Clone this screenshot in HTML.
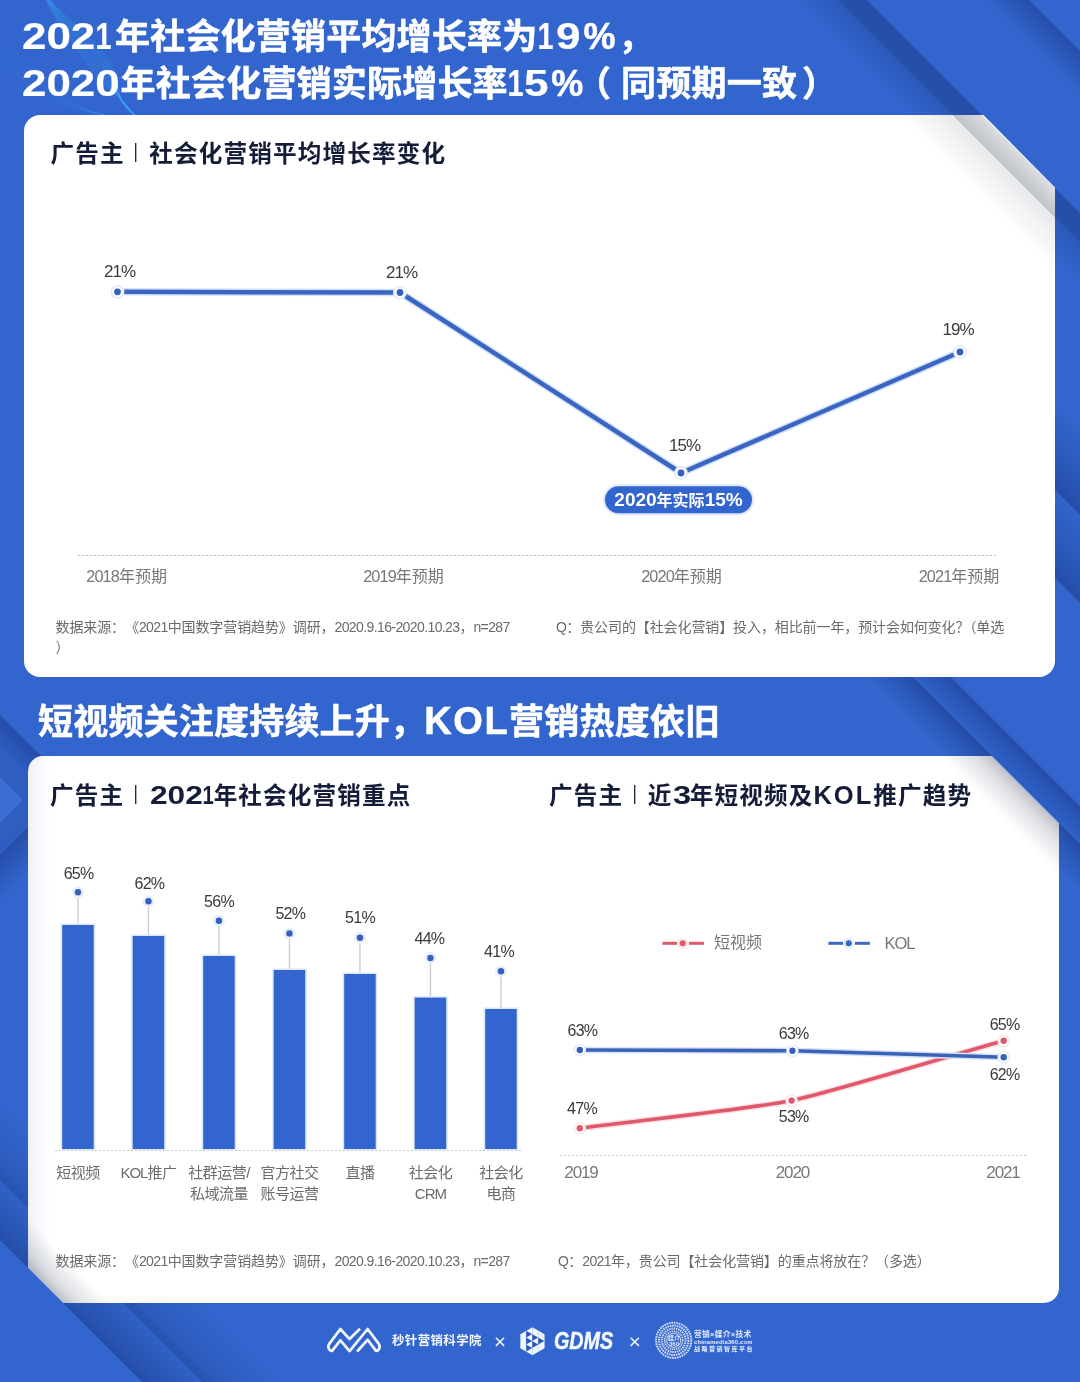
<!DOCTYPE html>
<html lang="zh-CN">
<head>
<meta charset="utf-8">
<title>社会化营销趋势</title>
<style>
*{margin:0;padding:0;box-sizing:border-box}
html,body{width:1080px;height:1382px;overflow:hidden;background:#3265cd}
body{position:relative;font-family:"Liberation Sans","Noto Sans CJK SC",sans-serif;color:#222;text-spacing-trim:space-all}
svg{position:absolute;left:0;top:0;overflow:visible}
.h1{position:absolute;left:24px;color:#fff;font-weight:700;font-size:35px;letter-spacing:.2px;line-height:47px;white-space:nowrap;-webkit-text-stroke:.55px #fff}
.h1 .n{font-size:36px;letter-spacing:2.7px}
.h1 .w{display:inline-block;font-size:36px;letter-spacing:0;transform:scaleX(1.22);transform-origin:0 50%;-webkit-text-stroke:.2px #fff}
.n{font-weight:inherit}
.card{position:absolute;background:#fff;border-radius:16px}
.ctitle{position:absolute;font-weight:700;font-size:23.6px;letter-spacing:1.15px;color:#141c38;white-space:nowrap;line-height:30px}
.ctitle i{font-style:normal;font-weight:400;font-size:21px;display:inline-block;margin:0 10.5px 0 8.6px;letter-spacing:0;transform:scaleX(.8);position:relative;top:-4.2px;color:#232b45}
.ctitle .n{font-size:25.5px;letter-spacing:3.2px}
.ctitle .w{display:inline-block;font-size:25.5px;letter-spacing:0;transform:scaleX(1.24);transform-origin:0 50%}
.ctitle .k{letter-spacing:2px}
.ctitle .o{letter-spacing:-1.5px}
.lbl{position:absolute;white-space:nowrap;color:#3a3a3a;font-size:17px;line-height:20px;transform:translateX(-50%);letter-spacing:-1px}
.ax{position:absolute;white-space:nowrap;color:#787878;font-size:16px;line-height:20px;transform:translateX(-50%);text-align:center}
.ax .d{font-size:16.3px;letter-spacing:-.9px}
.note{position:absolute;white-space:nowrap;color:#6a6a6a;font-size:14px;line-height:20px;letter-spacing:-.1px}
.note .d{letter-spacing:-.6px}
.pill{position:absolute;color:#fff;font-weight:700;font-size:16px;line-height:27px;text-align:center;white-space:nowrap}
.pill .n{font-size:19px}
.cat{position:absolute;transform:translateX(-50%);text-align:center;white-space:nowrap;color:#6c6c6c;font-size:15px;line-height:21px;letter-spacing:-.5px}
.cat .d{letter-spacing:-1px}
.yr{position:absolute;white-space:nowrap;color:#777;font-size:17px;line-height:20px;transform:translateX(-50%);letter-spacing:-1.1px}
.leg{position:absolute;white-space:nowrap;color:#777;font-size:16px;line-height:20px}
.leg .d{font-size:16.5px;letter-spacing:-1.1px}
.ft1{position:absolute;left:392px;top:1331px;color:#f3f7ff;font-weight:700;font-size:12.4px;letter-spacing:.45px;line-height:20px;white-space:nowrap}
.gdms{-webkit-text-stroke:.5px #f6f9ff;position:absolute;left:553.5px;top:1326px;color:#f6f9ff;font-weight:700;font-style:italic;font-size:24px;line-height:30px;white-space:nowrap;transform:scaleX(.82);transform-origin:0 50%}
.g360{position:absolute;left:653.7px;top:1330.3px;width:40px;height:20px;color:#e8efff;font-weight:700;font-size:12px;line-height:12px;text-align:center;white-space:nowrap;transform:scale(.5);transform-origin:50% 50%}
.m1{position:absolute;left:694px;top:1323.8px;color:#e8efff;font-weight:700;font-size:15.4px;line-height:20px;letter-spacing:.6px;white-space:nowrap;transform:scale(.5);transform-origin:0 50%}
.m2{position:absolute;left:694px;top:1331.6px;color:#e8efff;font-weight:700;font-size:11.6px;line-height:20px;letter-spacing:.4px;white-space:nowrap;transform:scale(.5);transform-origin:0 50%}
.m3{position:absolute;left:694px;top:1338.8px;color:#e8efff;font-weight:700;font-size:12px;line-height:20px;letter-spacing:3px;white-space:nowrap;transform:scale(.5);transform-origin:0 50%}
.l2{font-size:16px;letter-spacing:-.75px}
.h1 .u,.ctitle .u{transform:scaleX(.8);transform-origin:85% 50%}

</style>
</head>
<body>
<svg id="bg" width="1080" height="1382" viewBox="0 0 1080 1382"><defs>
<linearGradient id="sp" x1="0" y1="0" x2="0" y2="1"><stop offset="0" stop-color="#0a1f5c" stop-opacity="0.34"/><stop offset="0.35" stop-color="#0a1f5c" stop-opacity="0.2"/><stop offset="1" stop-color="#0a1f5c" stop-opacity="0"/></linearGradient>
<linearGradient id="sn" x1="0" y1="1" x2="0" y2="0"><stop offset="0" stop-color="#0a1f5c" stop-opacity="0.34"/><stop offset="0.35" stop-color="#0a1f5c" stop-opacity="0.2"/><stop offset="1" stop-color="#0a1f5c" stop-opacity="0"/></linearGradient>
<linearGradient id="tp" x1="0" y1="0" x2="0" y2="1"><stop offset="0" stop-color="#0a1f5c" stop-opacity="0.22"/><stop offset="0.35" stop-color="#0a1f5c" stop-opacity="0.12"/><stop offset="1" stop-color="#0a1f5c" stop-opacity="0"/></linearGradient>
<linearGradient id="tn" x1="0" y1="1" x2="0" y2="0"><stop offset="0" stop-color="#0a1f5c" stop-opacity="0.22"/><stop offset="0.35" stop-color="#0a1f5c" stop-opacity="0.12"/><stop offset="1" stop-color="#0a1f5c" stop-opacity="0"/></linearGradient>
<linearGradient id="gp" x1="0" y1="0" x2="0" y2="1"><stop offset="0" stop-color="#1c2740" stop-opacity="0.3"/><stop offset="0.3" stop-color="#1c2740" stop-opacity="0.16"/><stop offset="1" stop-color="#1c2740" stop-opacity="0"/></linearGradient>
<linearGradient id="gn" x1="0" y1="1" x2="0" y2="0"><stop offset="0" stop-color="#1c2740" stop-opacity="0.3"/><stop offset="0.3" stop-color="#1c2740" stop-opacity="0.16"/><stop offset="1" stop-color="#1c2740" stop-opacity="0"/></linearGradient>
<linearGradient id="ap" x1="0" y1="0" x2="0" y2="1"><stop offset="0" stop-color="#0a1f5c" stop-opacity="0.33"/><stop offset="0.4" stop-color="#0a1f5c" stop-opacity="0.3"/><stop offset="0.41" stop-color="#0a1f5c" stop-opacity="0.17"/><stop offset="1" stop-color="#0a1f5c" stop-opacity="0"/></linearGradient>
<linearGradient id="an" x1="0" y1="1" x2="0" y2="0"><stop offset="0" stop-color="#0a1f5c" stop-opacity="0.33"/><stop offset="0.4" stop-color="#0a1f5c" stop-opacity="0.3"/><stop offset="0.41" stop-color="#0a1f5c" stop-opacity="0.17"/><stop offset="1" stop-color="#0a1f5c" stop-opacity="0"/></linearGradient>
<linearGradient id="hp" x1="0" y1="0" x2="0" y2="1"><stop offset="0" stop-color="#1c2740" stop-opacity="0.15"/><stop offset="0.34" stop-color="#1c2740" stop-opacity="0.28"/><stop offset="0.35" stop-color="#1c2740" stop-opacity="0.1"/><stop offset="1" stop-color="#1c2740" stop-opacity="0"/></linearGradient>
<linearGradient id="hn" x1="0" y1="1" x2="0" y2="0"><stop offset="0" stop-color="#1c2740" stop-opacity="0.15"/><stop offset="0.34" stop-color="#1c2740" stop-opacity="0.28"/><stop offset="0.35" stop-color="#1c2740" stop-opacity="0.1"/><stop offset="1" stop-color="#1c2740" stop-opacity="0"/></linearGradient>
<clipPath id="cpA"><polygon points="860,-10 1090,-10 1090,223"/></clipPath>
<clipPath id="cpC"><polygon points="913,677 1090,677 1090,854"/></clipPath>
<clipPath id="cpD"><polygon points="-10,1230 152,1392 -10,1392"/></clipPath>
<clipPath id="cpR"><rect x="1040" y="300" width="40" height="377"/></clipPath>
<clipPath id="cpL"><rect x="0" y="690" width="40" height="300"/></clipPath>
<clipPath id="cc1"><rect x="24" y="115" width="1031" height="562" rx="16"/></clipPath>
<clipPath id="cc2"><rect x="28" y="755.5" width="1031" height="547.5" rx="15"/></clipPath>
</defs><g id="bands"><rect width="1080" height="1382" fill="#3265cd"/>
<g transform="rotate(45)">
<rect x="0" y="-613.06" width="1800" height="50.00" fill="url(#ap)"/>
<rect x="0" y="-727.61" width="1800" height="32.00" fill="url(#sp)"/>
<rect x="1050" y="-166.88" width="750" height="34.00" fill="url(#sp)"/>
<rect x="1050" y="-193.75" width="750" height="26.87" fill="#3265cd"/>
<rect x="1050" y="-193.75" width="750" height="32.87" fill="url(#sp)"/>
<rect x="1050" y="-493.75" width="750" height="300" fill="#3265cd"/>
<rect x="700" y="778.39" width="1100" height="56.00" fill="url(#tn)"/>
<rect x="700" y="834.39" width="1100" height="42.43" fill="#3265cd"/>
<rect x="700" y="824.39" width="1100" height="52.43" fill="url(#sn)"/>
<rect x="700" y="876.81" width="1100" height="300" fill="#3265cd"/>
</g>
<g clip-path="url(#cpR)"><g transform="rotate(45)">
<rect x="0" y="-461.52" width="1800" height="62.00" fill="url(#sn)"/>
<rect x="0" y="-399.52" width="1800" height="62.23" fill="#3265cd"/>
<rect x="0" y="-399.29" width="1800" height="62.00" fill="url(#sn)"/>
</g></g>
<g clip-path="url(#cpL)">
<g transform="rotate(45)"><rect x="300" y="505.58" width="400" height="40.00" fill="url(#sp)"/></g>
<polygon points="0,745 55,800 0,855" fill="#2f5dc0"/>
<g transform="rotate(-45 0 855)"><rect x="-50" y="855" width="200" height="34" fill="url(#sp)"/></g>
<polygon points="0,777 23,800 0,823" fill="#3a6dd4"/>
</g>
<path d="M46.0,0 C57.5,23.8 71.0,41.4 89.0,66.5 S125.0,97.9 134.0,116" fill="none" stroke="#3fb0ff" stroke-opacity=".3" stroke-width=".7"/><path d="M46.3,0 C58.1,23.6 72.2,40.7 90.2,65.9 S124.1,98.2 134.2,116" fill="none" stroke="#3fb0ff" stroke-opacity=".3" stroke-width=".7"/><path d="M46.6,0 C58.7,23.3 73.4,40.0 91.4,65.3 S123.1,98.5 134.4,116" fill="none" stroke="#3fb0ff" stroke-opacity=".3" stroke-width=".7"/><path d="M46.9,0 C59.3,23.1 74.6,39.2 92.6,64.7 S122.2,98.7 134.6,116" fill="none" stroke="#3fb0ff" stroke-opacity=".3" stroke-width=".7"/><path d="M47.2,0 C59.9,22.8 75.8,38.5 93.8,64.1 S121.3,99.0 134.8,116" fill="none" stroke="#3fb0ff" stroke-opacity=".3" stroke-width=".7"/><path d="M47.5,0 C60.5,22.6 77.0,37.8 95.0,63.5 S120.3,99.3 135.0,116" fill="none" stroke="#3fb0ff" stroke-opacity=".3" stroke-width=".7"/><path d="M47.8,0 C61.1,22.4 78.2,37.1 96.2,62.9 S119.4,99.6 135.2,116" fill="none" stroke="#3fb0ff" stroke-opacity=".3" stroke-width=".7"/><path d="M48.1,0 C61.7,22.1 79.4,36.4 97.4,62.3 S118.5,99.9 135.4,116" fill="none" stroke="#3fb0ff" stroke-opacity=".3" stroke-width=".7"/><path d="M48.4,0 C62.3,21.9 80.6,35.6 98.6,61.7 S117.5,100.1 135.6,116" fill="none" stroke="#3fb0ff" stroke-opacity=".3" stroke-width=".7"/><path d="M48.7,0 C62.9,21.6 81.8,34.9 99.8,61.1 S116.6,100.4 135.8,116" fill="none" stroke="#3fb0ff" stroke-opacity=".3" stroke-width=".7"/><path d="M49.0,0 C63.5,21.4 83.0,34.2 101.0,60.5 S115.7,100.7 136.0,116" fill="none" stroke="#3fb0ff" stroke-opacity=".3" stroke-width=".7"/><path d="M49.3,0 C64.1,21.2 84.2,33.5 102.2,59.9 S114.7,101.0 136.2,116" fill="none" stroke="#3fb0ff" stroke-opacity=".3" stroke-width=".7"/><path d="M49.6,0 C64.7,20.9 85.4,32.8 103.4,59.3 S113.8,101.3 136.4,116" fill="none" stroke="#3fb0ff" stroke-opacity=".3" stroke-width=".7"/><path d="M49.9,0 C65.3,20.7 86.6,32.0 104.6,58.7 S112.9,101.5 136.6,116" fill="none" stroke="#3fb0ff" stroke-opacity=".3" stroke-width=".7"/><path d="M50.2,0 C65.9,20.4 87.8,31.3 105.8,58.1 S111.9,101.8 136.8,116" fill="none" stroke="#3fb0ff" stroke-opacity=".3" stroke-width=".7"/><path d="M50.5,0 C66.5,20.2 89.0,30.6 107.0,57.5 S111.0,102.1 137.0,116" fill="none" stroke="#3fb0ff" stroke-opacity=".3" stroke-width=".7"/><path d="M0,44.0 C18,54.0 38,72.0 58,90.0 S92,112 108,116" fill="none" stroke="#46b4ff" stroke-opacity=".13" stroke-width=".8"/><path d="M0,47.5 C18,57.5 38,74.8 58,91.8 S92,112 108,116" fill="none" stroke="#46b4ff" stroke-opacity=".13" stroke-width=".8"/><path d="M0,51.0 C18,61.0 38,77.6 58,93.5 S92,112 108,116" fill="none" stroke="#46b4ff" stroke-opacity=".13" stroke-width=".8"/><path d="M0,54.5 C18,64.5 38,80.4 58,95.2 S92,112 108,116" fill="none" stroke="#46b4ff" stroke-opacity=".13" stroke-width=".8"/><path d="M0,58.0 C18,68.0 38,83.2 58,97.0 S92,112 108,116" fill="none" stroke="#46b4ff" stroke-opacity=".13" stroke-width=".8"/><path d="M0,61.5 C18,71.5 38,86.0 58,98.8 S92,112 108,116" fill="none" stroke="#46b4ff" stroke-opacity=".13" stroke-width=".8"/><path d="M0,65.0 C18,75.0 38,88.8 58,100.5 S92,112 108,116" fill="none" stroke="#46b4ff" stroke-opacity=".13" stroke-width=".8"/>
</g></svg>
<div class="h1" style="top:13px"><b class="w" style="margin:0 12.3px 0 -1.8px">202</b><b class="w u" style="margin:0 2.9px 0 -2.5px">1</b>年社会化营销平均增长率为<b class="w u" style="margin:0 2px 0 -3.8px">1</b><b class="w" style="margin-right:7.8px">9</b><b class="n">%</b>，</div>
<div class="h1" style="top:60px"><b class="w" style="margin:0 18.3px 0 -1.8px">2020</b>年社会化营销实际增长率<b class="w u" style="margin:0 .3px 0 -4.3px">1</b><b class="w" style="margin-right:7.3px">5</b><b class="n">%</b><span style="position:relative;left:-10px">（</span>同预期一致<span style="position:relative;left:5px">）</span></div>
<div class="card" id="card1" style="left:24px;top:115px;width:1031px;height:562px"></div>
<div class="h1" style="top:698px;left:38px">短视频关注度持续上升，<b class="n" style="font-size:38px;letter-spacing:1.6px;margin:0 -.2px 0 -1px">KOL</b>营销热度依旧</div>
<div class="card" id="card2" style="left:28px;top:755.5px;width:1031px;height:547.5px;border-radius:15px;background:linear-gradient(90deg,#f0f2f8 0,#fff 24px)"></div>
<svg id="over" width="1080" height="1382" viewBox="0 0 1080 1382">
<g clip-path="url(#cc1)"><g transform="rotate(45)"><rect x="0" y="-613.06" width="1800" height="60.00" fill="url(#hp)"/></g></g>
<g clip-path="url(#cc2)"><g transform="rotate(45)"><rect x="1050" y="-166.88" width="750" height="36.00" fill="url(#gp)"/><rect x="700" y="842.81" width="1100" height="34.00" fill="url(#gn)"/></g></g>
<g clip-path="url(#cpA)"><use href="#bands"/></g>
<g clip-path="url(#cpC)"><use href="#bands"/></g>
<g clip-path="url(#cpD)"><use href="#bands"/></g>
</svg>
<div class="ctitle" style="left:50.5px;top:139px">广告主<i>|</i>社会化营销平均增长率变化</div>
<div class="ctitle" style="left:50px;top:780px">广告主<i>|</i><b class="w" style="margin:0 10.1px 0 1px">202</b><b class="w u" style="margin:0 -.5px 0 -2.5px">1</b>年社会化营销重点</div>
<div class="ctitle" style="left:549px;top:780px">广告主<i>|</i>近<b class="w" style="margin:0 2.2px 0 .8px;transform:scaleX(1.28)">3</b>年短视频及<b class="n k">KOL</b>推广趋势</div>
<svg id="charts" width="1080" height="1382" viewBox="0 0 1080 1382">
<line x1="78" y1="555.5" x2="997" y2="555.5" stroke="#b9b9b9" stroke-width="1" stroke-dasharray="2 2"/>
<polyline points="117.5,291.8 400,292.5 681,473 960,352" fill="none" stroke="#d3e0f9" stroke-width="7.5" stroke-linejoin="round" stroke-linecap="round"/>
<polyline points="117.5,291.8 400,292.5 681,473 960,352" fill="none" stroke="#3a66c1" stroke-width="4.5" stroke-linejoin="round"/>
<circle cx="117.5" cy="291.8" r="7" fill="#e3ebfb"/><circle cx="117.5" cy="291.8" r="5.4" fill="#fff"/><circle cx="117.5" cy="291.8" r="3.4" fill="#3561bd"/>
<circle cx="400" cy="292.5" r="7" fill="#e3ebfb"/><circle cx="400" cy="292.5" r="5.4" fill="#fff"/><circle cx="400" cy="292.5" r="3.4" fill="#3561bd"/>
<circle cx="681" cy="473" r="7" fill="#e3ebfb"/><circle cx="681" cy="473" r="5.4" fill="#fff"/><circle cx="681" cy="473" r="3.4" fill="#3561bd"/>
<circle cx="960" cy="352" r="7" fill="#e3ebfb"/><circle cx="960" cy="352" r="5.4" fill="#fff"/><circle cx="960" cy="352" r="3.4" fill="#3561bd"/>
<rect x="603" y="484.3" width="151" height="31" rx="15.5" fill="#dfe8fb"/>
<rect x="605" y="486.3" width="147" height="27" rx="13.5" fill="#3265cd"/>
<line x1="55" y1="1150.5" x2="521" y2="1150.5" stroke="#c6c6c6" stroke-width="1" stroke-dasharray="2 2"/>
<line x1="77.95" y1="892.2" x2="77.95" y2="925" stroke="#c9c9c9" stroke-width="1.3"/>
<rect x="60.7" y="923.5" width="34.5" height="226.5" fill="#dbe7fb"/>
<rect x="62.2" y="925" width="31.5" height="224.0" fill="#3265cd"/>
<circle cx="77.95" cy="892.2" r="6" fill="#e8eefc"/><circle cx="77.95" cy="892.2" r="3.2" fill="#3561bd"/>
<line x1="148.45" y1="901.3" x2="148.45" y2="936" stroke="#c9c9c9" stroke-width="1.3"/>
<rect x="131.2" y="934.5" width="34.5" height="215.5" fill="#dbe7fb"/>
<rect x="132.7" y="936" width="31.5" height="213.0" fill="#3265cd"/>
<circle cx="148.45" cy="901.3" r="6" fill="#e8eefc"/><circle cx="148.45" cy="901.3" r="3.2" fill="#3561bd"/>
<line x1="218.95" y1="920.7" x2="218.95" y2="956" stroke="#c9c9c9" stroke-width="1.3"/>
<rect x="201.7" y="954.5" width="34.5" height="195.5" fill="#dbe7fb"/>
<rect x="203.2" y="956" width="31.5" height="193.0" fill="#3265cd"/>
<circle cx="218.95" cy="920.7" r="6" fill="#e8eefc"/><circle cx="218.95" cy="920.7" r="3.2" fill="#3561bd"/>
<line x1="289.45" y1="933.4" x2="289.45" y2="970" stroke="#c9c9c9" stroke-width="1.3"/>
<rect x="272.2" y="968.5" width="34.5" height="181.5" fill="#dbe7fb"/>
<rect x="273.7" y="970" width="31.5" height="179.0" fill="#3265cd"/>
<circle cx="289.45" cy="933.4" r="6" fill="#e8eefc"/><circle cx="289.45" cy="933.4" r="3.2" fill="#3561bd"/>
<line x1="359.95" y1="937.7" x2="359.95" y2="974" stroke="#c9c9c9" stroke-width="1.3"/>
<rect x="342.7" y="972.5" width="34.5" height="177.5" fill="#dbe7fb"/>
<rect x="344.2" y="974" width="31.5" height="175.0" fill="#3265cd"/>
<circle cx="359.95" cy="937.7" r="6" fill="#e8eefc"/><circle cx="359.95" cy="937.7" r="3.2" fill="#3561bd"/>
<line x1="430.45" y1="958" x2="430.45" y2="997.6" stroke="#c9c9c9" stroke-width="1.3"/>
<rect x="413.2" y="996.1" width="34.5" height="153.9" fill="#dbe7fb"/>
<rect x="414.7" y="997.6" width="31.5" height="151.4" fill="#3265cd"/>
<circle cx="430.45" cy="958" r="6" fill="#e8eefc"/><circle cx="430.45" cy="958" r="3.2" fill="#3561bd"/>
<line x1="500.95" y1="971.3" x2="500.95" y2="1009" stroke="#c9c9c9" stroke-width="1.3"/>
<rect x="483.7" y="1007.5" width="34.5" height="142.5" fill="#dbe7fb"/>
<rect x="485.2" y="1009" width="31.5" height="140.0" fill="#3265cd"/>
<circle cx="500.95" cy="971.3" r="6" fill="#e8eefc"/><circle cx="500.95" cy="971.3" r="3.2" fill="#3561bd"/>
<line x1="560" y1="1155.5" x2="1028" y2="1155.5" stroke="#c6c6c6" stroke-width="1" stroke-dasharray="2 2"/>
<path d="M579.8,1128.3 C649.7,1119.2 753.4,1108.5 791.6,1100.6 C829.8,1092.7 933.7,1060.5 1003.7,1040.8" fill="none" stroke="#fadfe3" stroke-width="6.5" stroke-linecap="round"/>
<path d="M579.8,1128.3 C649.7,1119.2 753.4,1108.5 791.6,1100.6 C829.8,1092.7 933.7,1060.5 1003.7,1040.8" fill="none" stroke="#e0586c" stroke-width="3.6"/>
<path d="M579.8,1050 C650.0,1050.3 754.2,1050.2 792.4,1050.8 C830.6,1051.4 934.0,1055.1 1003.7,1057.2" fill="none" stroke="#d6e2f8" stroke-width="6.5" stroke-linecap="round"/>
<path d="M579.8,1050 C650.0,1050.3 754.2,1050.2 792.4,1050.8 C830.6,1051.4 934.0,1055.1 1003.7,1057.2" fill="none" stroke="#3a63b8" stroke-width="3.6"/>
<circle cx="579.8" cy="1128.3" r="6.3" fill="#fbe3e6"/><circle cx="579.8" cy="1128.3" r="5" fill="#fff"/><circle cx="579.8" cy="1128.3" r="3.2" fill="#e0586c"/>
<circle cx="791.6" cy="1100.6" r="6.3" fill="#fbe3e6"/><circle cx="791.6" cy="1100.6" r="5" fill="#fff"/><circle cx="791.6" cy="1100.6" r="3.2" fill="#e0586c"/>
<circle cx="1003.7" cy="1040.8" r="6.3" fill="#fbe3e6"/><circle cx="1003.7" cy="1040.8" r="5" fill="#fff"/><circle cx="1003.7" cy="1040.8" r="3.2" fill="#e0586c"/>
<circle cx="579.8" cy="1050" r="6.3" fill="#e1e9fa"/><circle cx="579.8" cy="1050" r="5" fill="#fff"/><circle cx="579.8" cy="1050" r="3.2" fill="#3561bd"/>
<circle cx="792.4" cy="1050.8" r="6.3" fill="#e1e9fa"/><circle cx="792.4" cy="1050.8" r="5" fill="#fff"/><circle cx="792.4" cy="1050.8" r="3.2" fill="#3561bd"/>
<circle cx="1003.7" cy="1057.2" r="6.3" fill="#e1e9fa"/><circle cx="1003.7" cy="1057.2" r="5" fill="#fff"/><circle cx="1003.7" cy="1057.2" r="3.2" fill="#3561bd"/>
<line x1="662.4" y1="943.3" x2="677.1999999999999" y2="943.3" stroke="#e0586c" stroke-width="3"/>
<line x1="688.9" y1="943.3" x2="703.9" y2="943.3" stroke="#e0586c" stroke-width="3"/>
<circle cx="682.6999999999999" cy="943.3" r="5.6" fill="#fbe9ec"/><circle cx="682.6999999999999" cy="943.3" r="3" fill="#e0586c"/>
<line x1="828.4" y1="943.3" x2="843.1999999999999" y2="943.3" stroke="#3a66c4" stroke-width="3"/>
<line x1="854.9" y1="943.3" x2="869.9" y2="943.3" stroke="#3a66c4" stroke-width="3"/>
<circle cx="848.6999999999999" cy="943.3" r="5.6" fill="#e6edfb"/><circle cx="848.6999999999999" cy="943.3" r="3" fill="#3a66c4"/>
</svg>
<div class="lbl" style="left:119.6px;top:261.7px">21%</div>
<div class="lbl" style="left:401.5px;top:263.0px">21%</div>
<div class="lbl" style="left:684.6px;top:435.8px">15%</div>
<div class="lbl" style="left:958px;top:320.0px">19%</div>
<div class="pill" style="left:605px;top:486.3px;width:147px;height:27px"><b class="n">2020</b>年实际<b class="n">15%</b></div>
<div class="ax" style="left:126.6px;top:566.4px"><span class="d">2018</span>年预期</div>
<div class="ax" style="left:403.5px;top:566.4px"><span class="d">2019</span>年预期</div>
<div class="ax" style="left:681.5px;top:566.4px"><span class="d">2020</span>年预期</div>
<div class="ax" style="left:959px;top:566.4px"><span class="d">2021</span>年预期</div>
<div class="note" style="left:55.5px;top:617px">数据来源：《<span class="d">2021</span>中国数字营销趋势》调研，<span class="d">2020.9.16-2020.10.23</span>，<span class="d">n=287</span><br>）</div>
<div class="note" style="left:556px;top:617px"><span class="d">Q</span>：贵公司的【社会化营销】投入，相比前一年，预计会如何变化？<span style="margin-left:-7px">（单选</span></div>
<div class="lbl l2" style="left:78.6px;top:864.0px">65%</div>
<div class="lbl l2" style="left:149.4px;top:873.8px">62%</div>
<div class="lbl l2" style="left:219px;top:892.0px">56%</div>
<div class="lbl l2" style="left:290.3px;top:904.0px">52%</div>
<div class="lbl l2" style="left:360px;top:907.6px">51%</div>
<div class="lbl l2" style="left:429.4px;top:928.5px">44%</div>
<div class="lbl l2" style="left:499px;top:941.7px">41%</div>
<div class="cat" style="left:78.0px;top:1162px">短视频</div>
<div class="cat" style="left:148.4px;top:1162px"><span class="d">KOL</span>推广</div>
<div class="cat" style="left:218.9px;top:1162px">社群运营<span class="d">/</span><br>私域流量</div>
<div class="cat" style="left:289.4px;top:1162px">官方社交<br>账号运营</div>
<div class="cat" style="left:359.9px;top:1162px">直播</div>
<div class="cat" style="left:430.4px;top:1162px">社会化<br><span class="d">CRM</span></div>
<div class="cat" style="left:500.9px;top:1162px">社会化<br>电商</div>
<div class="note" style="left:55.5px;top:1251px">数据来源：《<span class="d">2021</span>中国数字营销趋势》调研，<span class="d">2020.9.16-2020.10.23</span>，<span class="d">n=287</span></div>
<div class="note" style="left:558px;top:1251px"><span class="d">Q</span>：<span class="d">2021</span>年，贵公司【社会化营销】的重点将放在？（多选）</div>
<div class="lbl l2" style="left:582.4px;top:1020.6px">63%</div>
<div class="lbl l2" style="left:793.7px;top:1024.2px">63%</div>
<div class="lbl l2" style="left:582px;top:1099.4px">47%</div>
<div class="lbl l2" style="left:793.7px;top:1107.2px">53%</div>
<div class="lbl l2" style="left:1004.6px;top:1015.0px">65%</div>
<div class="lbl l2" style="left:1004.6px;top:1064.5px">62%</div>
<div class="yr" style="left:581px;top:1163.0px">2019</div>
<div class="yr" style="left:792.4px;top:1163.0px">2020</div>
<div class="yr" style="left:1003px;top:1163.0px">2021</div>
<div class="leg" style="left:714px;top:933.3px">短视频</div>
<div class="leg" style="left:884.5px;top:933.3px"><span class="d">KOL</span></div>
<svg id="logos" width="1080" height="1382" viewBox="0 0 1080 1382">
<g transform="translate(322,1320) scale(0.059259)" fill="none" stroke="#f2f7ff" stroke-width="46" stroke-linejoin="round" stroke-linecap="butt"><path d="M642,148 L465,322 L310,152 L122,402 C92,445 112,522 170,520 L310,342 L465,524 L770,152 L956,398 C990,445 968,522 912,520 L770,334 L592,532"/></g>
<path d="M495.9,1337.7 L504.1,1345.8999999999999 M504.1,1337.7 L495.9,1345.8999999999999" stroke="#eef3ff" stroke-width="1.6" fill="none"/>
<path d="M630.6999999999999,1337.7 L638.9,1345.8999999999999 M638.9,1337.7 L630.6999999999999,1345.8999999999999" stroke="#eef3ff" stroke-width="1.6" fill="none"/>
<polygon points="532.45,1327.20 544.57,1334.20 544.57,1348.20 532.45,1355.20 520.33,1348.20 520.33,1334.20" fill="#eef5ff"/>
<polygon points="526.2,1330.65 526.2,1351.5 544.26,1341.08" fill="#2f55b4"/>
<polygon points="526.20 1337.60 532.22 1334.12 532.22 1341.08" fill="#eef5ff"/>
<polygon points="526.20 1344.55 532.22 1341.08 532.22 1348.03" fill="#eef5ff"/>
<polygon points="532.22 1341.08 538.24 1337.60 538.24 1344.55" fill="#eef5ff"/>
<g stroke="#3265cd" stroke-opacity=".35" stroke-width=".5"><line x1="532.45" y1="1327.2" x2="532.45" y2="1355.2"/><line x1="538.24" y1="1330.28" x2="538.24" y2="1352.12"/><line x1="526.20" y1="1331.12" x2="526.20" y2="1351.28"/></g>
<g fill="none" stroke="#e4ecff">
<circle cx="673.7" cy="1340.3" r="17.6" stroke-width="2.0" stroke-dasharray="1.7 .8" stroke-opacity=".9"/>
<circle cx="673.7" cy="1340.3" r="14.7" stroke-width="2.0" stroke-dasharray="1.6 .8" stroke-opacity=".9"/>
<circle cx="673.7" cy="1340.3" r="11.8" stroke-width="2.0" stroke-dasharray="1.5 .8" stroke-opacity=".9"/>
<circle cx="673.7" cy="1340.3" r="9.0" stroke-width="1.6" stroke-dasharray="1.4 .7" stroke-opacity=".9"/>
<circle cx="673.7" cy="1340.3" r="7" fill="#3265cd" stroke-width=".9"/>
</g>
</svg>
<div class="ft1">秒针营销科学院</div>
<div class="gdms">GDMS</div>
<div class="g360"><span>媒介</span><br><span>360</span></div>
<div class="m1">营销×媒介×技术</div>
<div class="m2">chinamedia360.com</div>
<div class="m3">战略营销智库平台</div>
</body>
</html>
